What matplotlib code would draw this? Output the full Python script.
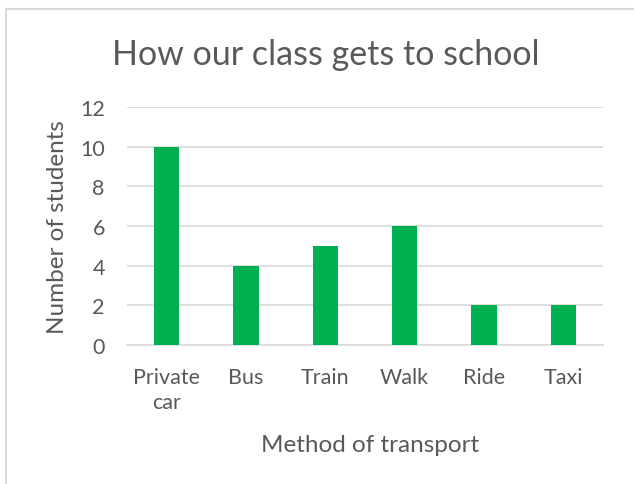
import matplotlib
matplotlib.use("Agg")
import matplotlib.pyplot as plt
from matplotlib.lines import Line2D

categories = ["Private\ncar", "Bus", "Train", "Walk", "Ride", "Taxi"]
values = [10, 4, 5, 6, 2, 2]
yticks = [0, 2, 4, 6, 8, 10, 12]

plt.rcParams['font.family'] = ['Lato', 'DejaVu Sans']
txt = '#595959'
W, H = 634, 485
fig = plt.figure(figsize=(W/100, H/100), dpi=100)
ax = fig.add_axes([127/W, 1-346/H, (603-127)/W, (346-108)/H])

x = list(range(len(categories)))
ax.bar(x, values, width=0.32, color='#00B050', zorder=3)
ax.set_xlim(-0.5, len(categories)-0.5)
ax.set_ylim(0, 12)
ax.set_yticks(yticks)
ax.set_xticks(x)
ax.set_xticklabels(categories, fontsize=15.5, color=txt, linespacing=1.35)
ax.set_yticklabels([str(v) for v in yticks], fontsize=15.5, color=txt)
ax.tick_params(axis='y', length=0, pad=16)
ax.tick_params(axis='x', length=0, pad=15.5)
ax.yaxis.grid(True, color='#D9D9D9', linewidth=1.2, zorder=0)
for s in ['top', 'right', 'left']:
    ax.spines[s].set_visible(False)
ax.spines['bottom'].set_color('#D9D9D9')
ax.spines['bottom'].set_linewidth(1.2)

ax.set_ylabel("Number of students", fontsize=17.5, color=txt, va='center')
ax.yaxis.set_label_coords((58-127)/476, 0.5)
ax.set_xlabel("Method of transport", fontsize=17.5, color=txt, va='center')
ax.xaxis.set_label_coords((370-127)/476, (346-446)/238)
fig.text(326/W, 1-55/H, "How our class gets to school", fontsize=24.5, color=txt,
         ha='center', va='center')

# chart border
fig.add_artist(Line2D([6/W, 6/W], [0, 1-10/H], color='#D9D9D9', lw=1.5))
fig.add_artist(Line2D([6/W, 1], [1-10/H, 1-10/H], color='#D9D9D9', lw=1.5))

fig.savefig("out.png", dpi=100, facecolor='white')
